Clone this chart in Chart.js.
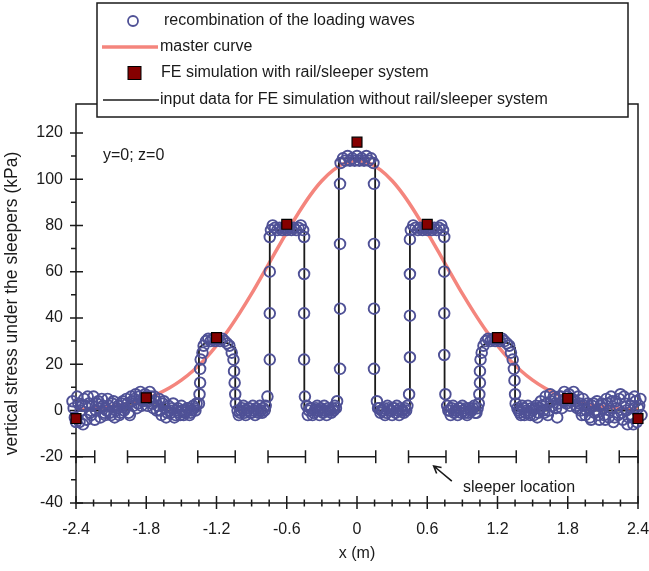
<!DOCTYPE html>
<html>
<head>
<meta charset="utf-8">
<script src="https://cdn.jsdelivr.net/npm/chart.js@4.4.0/dist/chart.umd.min.js"></script>
<style>
  html, body { margin: 0; padding: 0; background: #fff; }
  #wrap { width: 649px; height: 571px; }
</style>
</head>
<body>
<div id="wrap"><canvas id="c" width="649" height="571"></canvas></div>
<script>
// axes
const xTicks = [-2.4, -1.8, -1.2, -0.6, 0, 0.6, 1.2, 1.8, 2.4];
const yTicks = [-40, -20, 0, 20, 40, 60, 80, 100, 120];
const yMinor = [-30, -10, 10, 30, 50, 70, 90, 110];

// master curve
const masterX = [-2.4, -2.3, -2.2, -2.1, -2.0, -1.9, -1.8, -1.7, -1.6, -1.5, -1.4, -1.3, -1.2, -1.1, -1.0, -0.9, -0.8, -0.7, -0.6, -0.5, -0.4, -0.3, -0.2, -0.1,
  0, 0.1, 0.2, 0.3, 0.4, 0.5, 0.6, 0.7, 0.8, 0.9, 1.0, 1.1, 1.2, 1.3, 1.4, 1.5, 1.6, 1.7, 1.8, 1.9, 2.0, 2.1, 2.2, 2.3, 2.4];
const masterY = [0.5, 0.8, 1.2, 1.7, 2.5, 3.7, 5.2, 7.2, 9.8, 13.1, 17.2, 22.1, 28.0, 34.7, 42.3, 50.5, 59.3, 68.2, 77.0, 85.4, 93.0, 99.3, 104.0, 107.0,
  108, 107.0, 104.0, 99.3, 93.0, 85.4, 77.0, 68.2, 59.3, 50.5, 42.3, 34.7, 28.0, 22.1, 17.2, 13.1, 9.8, 7.2, 5.2, 3.7, 2.5, 1.7, 1.2, 0.8, 0.5];

// FE simulation with rail/sleeper system
const feX = [-2.4, -1.8, -1.2, -0.6, 0, 0.6, 1.2, 1.8, 2.4];
const feY = [-3.5, 5.5, 31.5, 80.5, 116, 80.5, 31.5, 5.2, -3.5];

// input data for FE simulation without rail/sleeper system
const inputX = [-2.4, -1.96, -1.96, -1.64, -1.64, -1.35, -1.35, -1.3, -1.2, -1.1, -1.04, -1.04, -0.745, -0.745, -0.45, -0.45, -0.155, -0.155,
  0.155, 0.155, 0.452, 0.452, 0.748, 0.748, 1.05, 1.05, 1.1, 1.2, 1.3, 1.35, 1.35, 1.64, 1.64, 1.96, 1.96, 2.4];
const inputY = [0, 0, 3, 3, 0, 0, 27, 29, 30, 29, 27, 0, 0, 78, 78, 0, 0, 109,
  109, 0, 0, 78, 78, 0, 0, 27, 29, 30, 29, 27, 0, 0, 3, 3, 0, 0];

// recombination of the loading waves
const recombX = [
  -2.43, -2.41, -2.39, -2.37, -2.35, -2.33, -2.31, -2.29, -2.27, -2.25, -2.23, -2.21, -2.19, -2.17, -2.15, -2.13, -2.11, -2.09, -2.07, -2.05,
  -2.03, -2.01, -1.99, -1.97, -1.95, -1.93, -1.91, -1.89, -1.87, -1.85, -1.83, -1.81, -1.79, -1.77, -1.75, -1.73, -1.71, -1.69, -1.67, -1.65,
  -1.63, -1.61, -1.59, -1.57, -1.55, -1.53, -1.51, -1.49, -1.47, -1.45, -1.43, -1.41, -1.39, -1.37,
  -1.35, -1.345, -1.34, -1.34, -1.335, -1.32, -1.31, -1.29, -1.27, -1.25, -1.23, -1.21, -1.19, -1.17, -1.15, -1.13, -1.11, -1.09, -1.07, -1.055,
  -1.05, -1.045, -1.04, -1.035,
  -1.02, -1.00, -0.98, -0.96, -0.94, -0.92, -0.90, -0.88, -0.86, -0.84, -0.82, -0.80, -0.78, -0.765,
  -0.745, -0.745, -0.745, -0.745,
  -0.735, -0.72, -0.70, -0.68, -0.66, -0.64, -0.62, -0.60, -0.58, -0.56, -0.54, -0.52, -0.50, -0.48, -0.46,
  -0.452, -0.452, -0.452, -0.452, -0.445,
  -0.43, -0.41, -0.39, -0.37, -0.35, -0.33, -0.31, -0.29, -0.27, -0.25, -0.23, -0.21, -0.19, -0.17,
  -0.145, -0.145, -0.145, -0.145,
  -0.14, -0.12, -0.10, -0.08, -0.06, -0.04, -0.02, 0.00, 0.02, 0.04, 0.06, 0.08, 0.10, 0.12, 0.14,
  0.145, 0.145, 0.145, 0.145,
  0.17, 0.19, 0.21, 0.23, 0.25, 0.27, 0.29, 0.31, 0.33, 0.35, 0.37, 0.39, 0.41, 0.43, 0.445,
  0.452, 0.452, 0.452, 0.452,
  0.46, 0.48, 0.50, 0.52, 0.54, 0.56, 0.58, 0.60, 0.62, 0.64, 0.66, 0.68, 0.70, 0.72, 0.735,
  0.745, 0.745, 0.745, 0.745, 0.755,
  0.77, 0.79, 0.81, 0.83, 0.85, 0.87, 0.89, 0.91, 0.93, 0.95, 0.97, 0.99, 1.01, 1.03,
  1.04, 1.045, 1.05, 1.05, 1.055, 1.065, 1.08, 1.10, 1.12, 1.14, 1.16, 1.18, 1.20, 1.22, 1.24, 1.26, 1.28, 1.30, 1.315, 1.33,
  1.34, 1.345, 1.35, 1.355,
  1.37, 1.39, 1.41, 1.43, 1.45, 1.47, 1.49, 1.51, 1.53, 1.55, 1.57, 1.59, 1.61, 1.63, 1.65, 1.67, 1.69, 1.71, 1.73, 1.75,
  1.77, 1.79, 1.81, 1.83, 1.85, 1.87, 1.89, 1.91, 1.93, 1.95, 1.97, 1.99, 2.01, 2.03, 2.05, 2.07, 2.09, 2.11, 2.13, 2.15,
  2.17, 2.19, 2.21, 2.23, 2.25, 2.27, 2.29, 2.31, 2.33, 2.35, 2.37, 2.39, 2.41, 2.43,
  // second pass of the waves (tails and troughs)
  -2.42, -2.40, -2.38, -2.36, -2.34, -2.32, -2.30, -2.28, -2.26, -2.24, -2.22, -2.20, -2.18, -2.16, -2.14, -2.12, -2.10, -2.08, -2.06, -2.04,
  -2.02, -2.00, -1.98, -1.96, -1.94, -1.92, -1.90, -1.88, -1.86, -1.84, -1.82, -1.80, -1.78, -1.76, -1.74, -1.72, -1.70, -1.68, -1.66, -1.64,
  -1.62, -1.60, -1.58, -1.56, -1.54, -1.52, -1.50, -1.48, -1.46, -1.44, -1.42, -1.40, -1.38,
  -1.01, -0.99, -0.97, -0.95, -0.93, -0.91, -0.89, -0.87, -0.85, -0.83, -0.81, -0.79,
  -0.42, -0.40, -0.38, -0.36, -0.34, -0.32, -0.30, -0.28, -0.26, -0.24, -0.22, -0.20, -0.18,
  0.18, 0.20, 0.22, 0.24, 0.26, 0.28, 0.30, 0.32, 0.34, 0.36, 0.38, 0.40, 0.42,
  0.78, 0.80, 0.82, 0.84, 0.86, 0.88, 0.90, 0.92, 0.94, 0.96, 0.98, 1.00, 1.02,
  1.38, 1.40, 1.42, 1.44, 1.46, 1.48, 1.50, 1.52, 1.54, 1.56, 1.58, 1.60, 1.62, 1.64, 1.66, 1.68, 1.70, 1.72, 1.74, 1.76,
  1.78, 1.80, 1.82, 1.84, 1.86, 1.88, 1.90, 1.92, 1.94, 1.96, 1.98, 2.00, 2.02, 2.04, 2.06, 2.08, 2.10, 2.12, 2.14, 2.16,
  2.18, 2.20, 2.22, 2.24, 2.26, 2.28, 2.30, 2.32, 2.34, 2.36, 2.38, 2.40, 2.42
];
const recombY = [
  4, -3, 6, -5, 2, 5, -4, 3, -2, 6, 0, 4, -3, 2, -2, 5, -1, 3, -3, 1,
  -2, 3, 0, 5, -1, 6, 2, 7, 3, 8, 4, 7, 2, 8, 3, 6, 0, 5, -2, 4,
  -3, 2, -1, 3, -2, 1, -2, 0, -1, 1, -2, 0, 1, 3,
  3, 7, 12, 18, 22, 25, 28, 30, 31, 30, 31, 30, 31, 30, 31, 30, 29, 28, 25, 22,
  17, 12, 7, 3,
  0, -1, 1, -1, 0, 1, -1, 0, 1, -1, 0, 1, 2, 6,
  22, 42, 60, 75,
  78, 80, 79, 78, 79, 78, 79, 78, 79, 78, 79, 78, 79, 80, 78,
  75, 59, 42, 22, 6,
  2, 0, 1, -1, 1, 0, 1, -1, 0, 1, 0, 1, 2, 4,
  18, 44, 72, 98,
  107, 109, 108, 110, 108, 109, 108, 110, 108, 109, 108, 110, 108, 109, 107,
  98, 72, 44, 18,
  4, 1, 0, 1, -1, 1, 0, 1, -1, 0, 1, 0, 1, 2, 7,
  23, 41, 59, 74,
  78, 80, 79, 78, 79, 78, 79, 78, 79, 78, 79, 78, 79, 80, 78,
  75, 60, 42, 24, 7,
  2, 0, 1, -1, 0, 1, -1, 0, 1, -1, 0, 1, -1, 1,
  3, 7, 12, 17, 22, 25, 28, 30, 31, 30, 31, 30, 31, 30, 31, 30, 29, 28, 25, 22,
  18, 13, 7, 3,
  1, -1, 2, -2, 0, -1, 1, -2, 2, -1, 4, 0, 6, -2, 7, 2, 5, -3, 6, 1,
  8, 3, 7, 4, 8, 2, 6, 0, 5, -2, 3, -3, 2, -1, 4, -4, 3, -2, 5, -3,
  6, -5, 4, -2, 7, -4, 3, -6, 5, -3, 6, -5, 2, -2,
  // second pass
  1, -5, 3, 0, -6, 2, 6, -1, 2, -4, 3, 1, 5, -1, 0, 2, -2, 4, 0, 2,
  -1, 4, 1, 3, -2, 4, 5, 1, 6, 2, 5, 6, 4, 6, 1, 4, 2, 0, 3, 1,
  -1, 0, 1, -3, 0, -1, 2, -2, 0, 1, -1, 2, 0,
  -2, 0, 2, -2, 1, -1, 2, -2, 0, 2, -1, 0,
  -2, 1, -2, 0, 2, -2, 0, 2, -2, 0, -1, 0, 1,
  1, -1, 0, -2, 2, 0, -2, 1, 2, -2, 0, -1, 0,
  0, -2, 2, 0, -2, 1, 2, -1, -2, 1, 0, 2, -1,
  0, -2, 1, -1, 2, -2, 0, 1, -3, 1, 2, -1, 3, 0, 4, 6, 1, 3, 6, 4,
  5, 6, 2, 5, 4, 1, 3, -2, 2, 0, 1, -4, 3, 0, -2, 2, 1, -4, 3, 0,
  4, -3, 1, 5, -1, 6, 0, -3, 2, -6, 4, 1, 5
];

// sleeper locations
const sleeperLevel = -20;
const sleeperStart = [-2.4, -1.96, -1.36, -0.76, -0.16, 0.44, 1.04, 1.64, 2.24];
const sleeperEnd = [-2.24, -1.64, -1.04, -0.44, 0.16, 0.76, 1.36, 1.96, 2.4];

// annotations (data coordinates)
const noteText = 'y=0; z=0';
const notePos = { x: -2.17, y: 110 };
const sleeperText = 'sleeper location';
const sleeperTextPos = { x: 0.905, y: -33.5 };
const arrowTip = { x: 0.655, y: -24 };
const arrowTail = { x: 0.81, y: -30.5 };

const FONT = '"Liberation Sans", Arial, sans-serif';
const INK = '#1a1a1a';
const CIRCLE = '#4f5196';
const SALMON = '#f4857d';
const DARKRED = '#850000';

const pts = (xs, ys) => xs.map((v, i) => ({ x: v, y: ys[i] }));

const sleeperData = [];
sleeperStart.forEach((s, i) => {
  sleeperData.push({ x: s, y: sleeperLevel }, { x: sleeperEnd[i], y: sleeperLevel }, { x: sleeperEnd[i] + 0.01, y: null });
});

const decor = {
  id: 'decor',
  beforeDatasetsDraw(chart) {
    const { ctx, chartArea: a, scales: { x, y } } = chart;
    ctx.save();
    ctx.strokeStyle = INK;
    ctx.lineWidth = 1.5;
    ctx.strokeRect(a.left, a.top, a.right - a.left, a.bottom - a.top);
    ctx.beginPath();
    yTicks.forEach(v => {
      const py = y.getPixelForValue(v);
      ctx.moveTo(a.left - 6, py); ctx.lineTo(a.left + 7, py);
    });
    yMinor.forEach(v => {
      const py = y.getPixelForValue(v);
      ctx.moveTo(a.left - 5, py); ctx.lineTo(a.left, py);
    });
    xTicks.forEach((v, i) => {
      const px = x.getPixelForValue(v);
      ctx.moveTo(px, a.bottom - 7); ctx.lineTo(px, a.bottom + 6);
      if (i < xTicks.length - 1) {
        for (let k = 1; k < 4; k++) {
          const mx = x.getPixelForValue(v + k * 0.15);
          ctx.moveTo(mx, a.bottom - 3.5); ctx.lineTo(mx, a.bottom + 3.5);
        }
      }
    });
    ctx.stroke();

    ctx.fillStyle = INK;
    ctx.font = '16px ' + FONT;
    ctx.textBaseline = 'middle';
    ctx.fillText(noteText, x.getPixelForValue(notePos.x), y.getPixelForValue(notePos.y));
    ctx.fillText(sleeperText, x.getPixelForValue(sleeperTextPos.x), y.getPixelForValue(sleeperTextPos.y));

    // arrow to the sleeper
    const tx = x.getPixelForValue(arrowTip.x), ty = y.getPixelForValue(arrowTip.y);
    const sx = x.getPixelForValue(arrowTail.x), sy = y.getPixelForValue(arrowTail.y);
    const ang = Math.atan2(ty - sy, tx - sx);
    ctx.lineWidth = 1.6;
    ctx.beginPath();
    ctx.moveTo(sx, sy); ctx.lineTo(tx, ty);
    ctx.moveTo(tx - 8 * Math.cos(ang - 0.5), ty - 8 * Math.sin(ang - 0.5));
    ctx.lineTo(tx, ty);
    ctx.lineTo(tx - 8 * Math.cos(ang + 0.5), ty - 8 * Math.sin(ang + 0.5));
    ctx.stroke();
    ctx.restore();
  },
  afterDraw(chart) {
    // legend box over the top of the plot
    const { ctx } = chart;
    ctx.save();
    ctx.fillStyle = '#fff';
    ctx.fillRect(97, 3, 531, 114);
    ctx.strokeStyle = INK;
    ctx.lineWidth = 1.5;
    ctx.strokeRect(97, 3, 531, 114);
    const rows = [21, 47, 73, 100];
    ctx.strokeStyle = CIRCLE; ctx.lineWidth = 1.8;
    ctx.beginPath(); ctx.arc(133, rows[0], 5, 0, Math.PI * 2); ctx.stroke();
    ctx.strokeStyle = SALMON; ctx.lineWidth = 3.5;
    ctx.beginPath(); ctx.moveTo(102, rows[1]); ctx.lineTo(158, rows[1]); ctx.stroke();
    ctx.fillStyle = DARKRED; ctx.strokeStyle = '#000'; ctx.lineWidth = 1;
    ctx.fillRect(128, rows[2] - 6.5, 13, 13); ctx.strokeRect(128, rows[2] - 6.5, 13, 13);
    ctx.strokeStyle = INK; ctx.lineWidth = 1.6;
    ctx.beginPath(); ctx.moveTo(103, rows[3]); ctx.lineTo(159, rows[3]); ctx.stroke();
    ctx.fillStyle = INK;
    ctx.font = '16px ' + FONT;
    ctx.textBaseline = 'middle';
    ctx.fillText('recombination of the loading waves', 164, rows[0]);
    ctx.fillText('master curve', 160, rows[1]);
    ctx.fillText('FE simulation with rail/sleeper system', 161, rows[2]);
    ctx.fillText('input data for FE simulation without rail/sleeper system', 160, rows[3]);
    ctx.restore();
  }
};

new Chart(document.getElementById('c'), {
  type: 'scatter',
  data: {
    datasets: [
      {
        label: 'FE simulation with rail/sleeper system',
        data: pts(feX, feY),
        pointStyle: 'rect',
        pointRadius: 7,
        backgroundColor: DARKRED,
        borderColor: '#000',
        borderWidth: 1.2,
        showLine: false,
        order: 0,
        clip: false
      },
      {
        label: 'recombination of the loading waves',
        data: pts(recombX, recombY),
        pointStyle: 'circle',
        pointRadius: 5.3,
        borderColor: CIRCLE,
        backgroundColor: 'rgba(0,0,0,0)',
        borderWidth: 1.9,
        showLine: false,
        order: 1,
        clip: false
      },
      {
        label: 'input data for FE simulation without rail/sleeper system',
        data: pts(inputX, inputY),
        showLine: true,
        borderColor: INK,
        borderWidth: 1.8,
        pointRadius: 0,
        order: 2
      },
      {
        label: 'master curve',
        data: pts(masterX, masterY),
        showLine: true,
        borderColor: SALMON,
        borderWidth: 3.5,
        pointRadius: 0,
        cubicInterpolationMode: 'monotone',
        order: 3
      },
      {
        label: 'sleeper location',
        data: sleeperData,
        showLine: true,
        spanGaps: false,
        borderColor: INK,
        borderWidth: 1.5,
        pointStyle: 'line',
        rotation: 90,
        pointRadius: 6.5,
        pointBorderWidth: 1.5,
        pointBorderColor: INK,
        order: 4,
        clip: false
      }
    ]
  },
  options: {
    responsive: false,
    animation: false,
    devicePixelRatio: 1,
    layout: { padding: { top: 104, right: 11, left: 0, bottom: 0 } },
    plugins: { legend: { display: false }, tooltip: { enabled: false } },
    scales: {
      x: {
        type: 'linear',
        min: -2.4,
        max: 2.4,
        afterBuildTicks: s => { s.ticks = xTicks.map(v => ({ value: v })); },
        afterFit: s => { s.height = 68; s.paddingLeft = 0; s.paddingRight = 0; },
        ticks: {
          padding: 17,
          color: INK,
          font: { family: FONT, size: 16 },
          callback: v => (v === 0 ? '0' : v.toFixed(1))
        },
        grid: { display: false, drawTicks: false },
        border: { display: false },
        title: { display: true, text: 'x (m)', color: INK, font: { family: FONT, size: 16 }, padding: { top: 0, bottom: 8 } }
      },
      y: {
        min: -40,
        max: 132.5,
        afterBuildTicks: s => { s.ticks = yTicks.map(v => ({ value: v })); },
        afterFit: s => { s.width = 76; },
        ticks: { padding: 13, color: INK, font: { family: FONT, size: 16 } },
        grid: { display: false, drawTicks: false },
        border: { display: false },
        title: { display: true, text: 'vertical stress under the sleepers (kPa)', color: INK, font: { family: FONT, size: 17.5 }, padding: { top: 2, bottom: 0 } }
      }
    }
  },
  plugins: [decor]
});
</script>
</body>
</html>
